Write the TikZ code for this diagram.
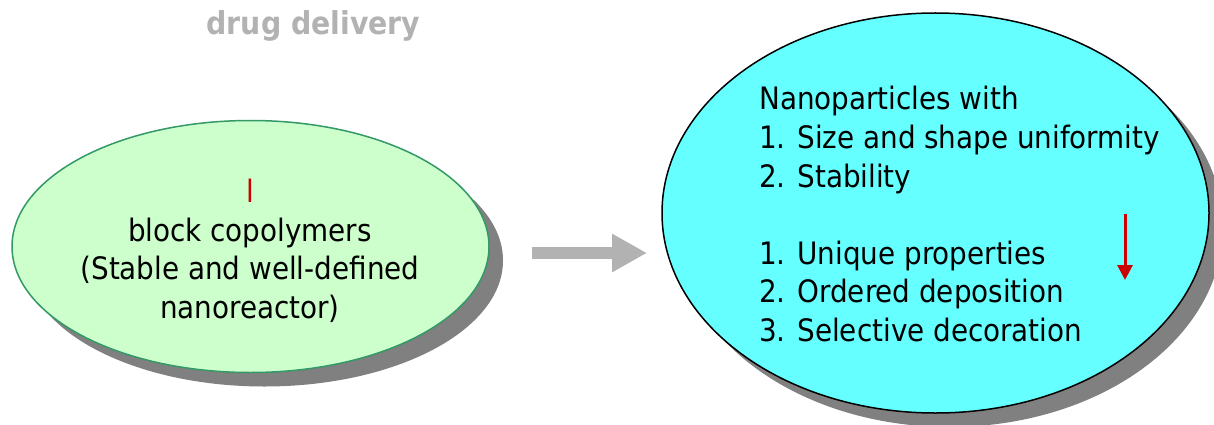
\documentclass[tikz,border=0pt]{standalone}
\usepackage{fontspec}
\setmainfont{DejaVu Sans Condensed}
\usetikzlibrary{shapes.geometric,shadows,arrows.meta}
\definecolor{greenfill}{HTML}{CCFFCC}
\definecolor{greenedge}{HTML}{339966}
\definecolor{cyanfill}{HTML}{66FFFF}
\definecolor{shadowgray}{HTML}{808080}
\definecolor{arrowgray}{HTML}{B2B2B2}
\definecolor{darkred}{HTML}{CC0000}
\tikzset{
  blob/.style={ellipse, inner sep=0pt, line width=1.5pt,
    drop shadow={shadow xshift=14pt, shadow yshift=-14pt, fill=shadowgray, opacity=1}},
  txt/.style={inner sep=0pt, font=\fontsize{30.9}{38.5}\selectfont},
}
\begin{document}
\begin{tikzpicture}[x=1pt,y=-1pt]
\useasboundingbox[fill=white] (0,0) rectangle (1214,425);
% title
\node[inner sep=0pt, anchor=base, text=arrowgray, font=\fontsize{31.5}{34}\selectfont\bfseries] (title) at (313.5,35) {drug delivery};
% left ellipse
\node[blob, draw=greenedge, fill=greenfill, minimum width=477pt, minimum height=252pt] (left) at (250.5,246.5) {};
\node[txt, anchor=base, text=darkred] (l0) at (250,202.5) {l};
\node[txt, anchor=base] (l1) at (250,241) {block copolymers};
\node[txt, anchor=base] (l2) at (250,279.5) {(Stable and well-defined};
\node[txt, anchor=base] (l3) at (250,318) {nanoreactor)};
% right ellipse
\node[blob, draw=black, fill=cyanfill, minimum width=547pt, minimum height=400pt] (right) at (935.5,213) {};
\node[txt, anchor=base west] (r1) at (759,110) {Nanoparticles with};
\node[txt, anchor=base west] (r2) at (759,148.5) {1. Size and shape uniformity};
\node[txt, anchor=base west] (r3) at (759,187) {2. Stability};
\node[txt, anchor=base west] (r4) at (759,264) {1. Unique properties};
\node[txt, anchor=base west] (r5) at (759,302.5) {2. Ordered deposition};
\node[txt, anchor=base west] (r6) at (759,341) {3. Selective decoration};
% red arrow
\coordinate (d1) at (1125,214);
\coordinate (d2) at (1125,280);
\draw[darkred, line width=3pt, -{Triangle[length=15pt,width=15pt]}] (d1) -- (d2);
% gray block arrow
\coordinate (a1) at (532,253);
\coordinate (a2) at (647,253);
\draw[arrowgray, line width=12pt, -{Triangle[length=35pt,width=36pt]}] (a1) -- (a2);
\end{tikzpicture}
\end{document}
